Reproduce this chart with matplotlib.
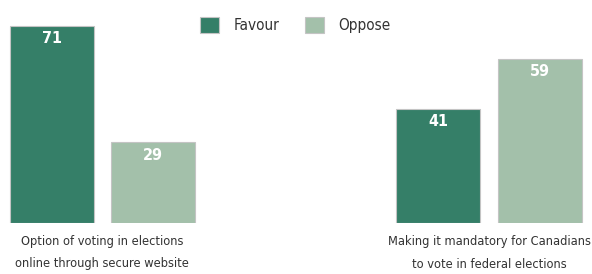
import matplotlib.pyplot as plt
import numpy as np

plt.rcParams['font.family'] = ['DejaVu Sans']
plt.rcParams['font.stretch'] = 'condensed'

categories = ["Option of voting in elections\nonline through secure website",
              "Making it mandatory for Canadians\nto vote in federal elections"]
favour = [71, 41]
oppose = [29, 59]
series_names = ["Favour", "Oppose"]
colors = ["#357f68", "#a3c0aa"]

fig = plt.figure(figsize=(5.92, 2.74), dpi=100)
ax = fig.add_axes([0, 51 / 274, 1, 222.4 / 274])

x = np.arange(len(categories))
width = 0.217
offset = 0.131

bars_f = ax.bar(x - offset, favour, width, color=colors[0], edgecolor="#c4c4c4",
                linewidth=0.8, label=series_names[0])
bars_o = ax.bar(x + offset, oppose, width, color=colors[1], edgecolor="#c4c4c4",
                linewidth=0.8, label=series_names[1])

for bars in (bars_f, bars_o):
    for b in bars:
        ax.text(b.get_x() + b.get_width() / 2, b.get_height() - 4.6, str(int(b.get_height())),
                ha="center", va="center", color="white", fontsize=11.5, fontweight="bold")

ax.set_xlim(-0.265, 1.2665)
ax.set_ylim(0, 80)
ax.set_yticks([])
ax.set_xticks(x)
ax.set_xticklabels(categories, fontsize=9.2, color="#333333", linespacing=1.9)
ax.tick_params(axis="x", length=0, pad=9)
for s in ax.spines.values():
    s.set_visible(False)

fig.legend(handles=[bars_f, bars_o], loc="upper left", bbox_to_anchor=(0.328, 0.962),
           ncol=2, frameon=False, fontsize=11, handlelength=1.25, handleheight=1.25,
           handletextpad=0.9, columnspacing=1.7, labelcolor="#333333", borderpad=0.4,
           borderaxespad=0)

fig.savefig("out.png", dpi=100)
